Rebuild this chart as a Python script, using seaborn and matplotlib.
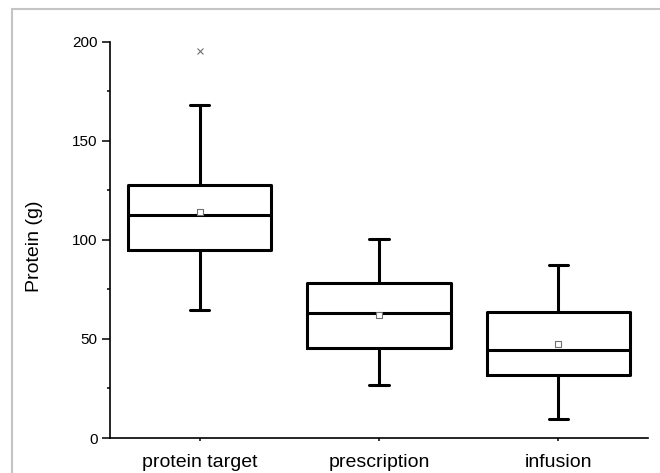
import matplotlib
matplotlib.use("Agg")
import matplotlib.pyplot as plt
from matplotlib.lines import Line2D
from matplotlib.ticker import MultipleLocator
import numpy as np
import pandas as pd
import seaborn as sns

# values (g)
categories = ["protein target", "prescription", "infusion"]
whisker_low = [64.6, 26.6, 9.6]
q1 = [94.8, 45.5, 32.0]
median = [112.6, 63.1, 44.3]
q3 = [127.8, 78.1, 63.6]
whisker_high = [168.2, 100.4, 87.5]
means = [114.3, 62.1, 47.6]
outliers = [[195.1], [], []]

# build a long table whose quartiles/whiskers reproduce the summary above
rows = []
for cat, lo, a, m, b, hi, outs in zip(categories, whisker_low, q1, median, q3, whisker_high, outliers):
	vals = [lo] + [a] * 5 + [m] * 5 + [b] * 5 + [hi] + outs
	rows.extend({"group": cat, "protein": v} for v in vals)
df = pd.DataFrame(rows)

sns.set_theme(style="ticks")
plt.rcParams["font.family"] = ["Liberation Sans", "DejaVu Sans"]
plt.rcParams["text.color"] = "black"
plt.rcParams["axes.labelcolor"] = "black"
plt.rcParams["xtick.labelcolor"] = "black"
plt.rcParams["ytick.labelcolor"] = "black"

fig = plt.figure(figsize=(6.6, 4.73), dpi=100)
ax = fig.add_axes([110 / 660, 35 / 473, 538 / 660, 396.3 / 473])

sns.boxplot(
	data=df,
	x="group",
	y="protein",
	order=categories,
	width=0.8,
	fill=False,
	color="black",
	linewidth=2.2,
	flierprops=dict(marker="x", markersize=4, markeredgecolor="#707070", markeredgewidth=0.8),
	ax=ax,
)

# narrow the whisker caps like the original
for line in ax.lines:
	xd = np.asarray(line.get_xdata(), dtype=float)
	yd = np.asarray(line.get_ydata(), dtype=float)
	if len(xd) == 2 and yd[0] == yd[1] and abs(abs(xd[1] - xd[0]) - 0.4) < 1e-6:
		c = xd.mean()
		line.set_xdata([c - 0.054, c + 0.054])

sns.scatterplot(
	x=np.arange(len(categories)),
	y=means,
	marker="s",
	s=14,
	facecolor="white",
	edgecolor="#707070",
	linewidth=0.8,
	zorder=5,
	ax=ax,
)

ax.set_xlim(-0.5, 2.5)
ax.set_ylim(0, 200)
ax.set_xticks(range(len(categories)))
ax.set_xticklabels(categories, fontsize=14, color="black")
ax.yaxis.set_major_locator(MultipleLocator(50))
ax.yaxis.set_minor_locator(MultipleLocator(25))
ax.tick_params(axis="y", which="major", length=6, width=1.1, labelsize=11, pad=3, color="black", labelcolor="black")
ax.tick_params(axis="y", which="minor", length=2.5, width=1.1, color="black")
ax.tick_params(axis="x", which="major", length=2.5, width=1.1, pad=9, color="black")
ax.set_xlabel("")
ax.set_ylabel("Protein (g)", fontsize=14, color="black")
ax.yaxis.set_label_coords(-0.125, 0.485)
sns.despine(ax=ax)
for side in ("left", "bottom"):
	ax.spines[side].set_linewidth(1.2)
	ax.spines[side].set_color("black")

# light grey frame on top and left edge of the picture
frame = "#c4c4c4"
fig.add_artist(Line2D([12 / 660, 1], [1 - 9 / 473] * 2, transform=fig.transFigure, color=frame, lw=1.5))
fig.add_artist(Line2D([12 / 660] * 2, [0, 1 - 9 / 473], transform=fig.transFigure, color=frame, lw=1.5))

fig.savefig("out.png", dpi=100)
